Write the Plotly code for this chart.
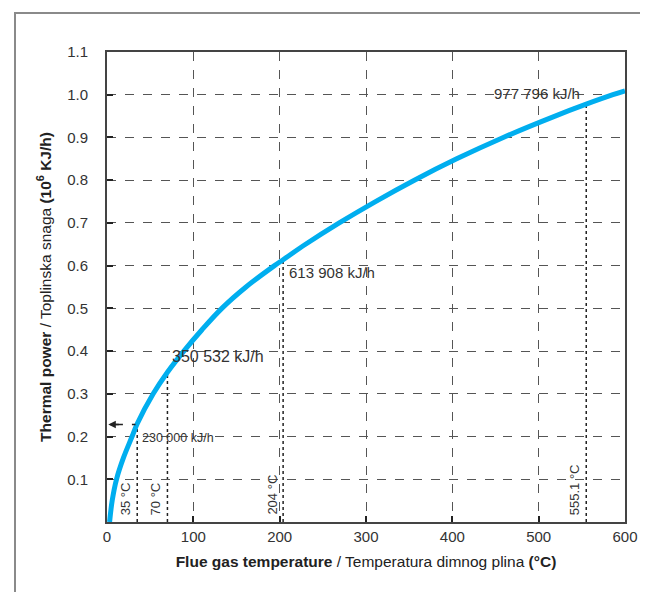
import plotly.graph_objects as go

# Curve data
temperature = [3, 6, 11, 19, 29, 35, 53.5, 70, 89, 110, 133, 161, 194, 204, 230, 269, 311, 356, 405, 459, 519, 555.1, 586, 600]
power = [0.0, 0.05, 0.10, 0.15, 0.20, 0.23, 0.30, 0.350532, 0.40, 0.45, 0.50, 0.55, 0.60, 0.613908, 0.65, 0.70, 0.75, 0.80, 0.85, 0.90, 0.95, 0.977796, 1.0, 1.009]

# Marked points
mark_t = [35, 70, 204, 555.1]
mark_q = [0.23, 0.350532, 0.613908, 0.977796]
mark_labels = ["35 °C", "70 °C", "204 °C", "555.1 °C"]
value_labels = ["230 000 kJ/h", "350 532 kJ/h", "613 908 kJ/h", "977 796 kJ/h"]

x_ticks = [0, 100, 200, 300, 400, 500, 600]
y_ticks = [0.1, 0.2, 0.3, 0.4, 0.5, 0.6, 0.7, 0.8, 0.9, 1.0, 1.1]

FONT = "Liberation Sans, Arial, sans-serif"
TXT = "#333333"

fig = go.Figure()
fig.add_trace(go.Scatter(x=temperature, y=power, mode="lines",
                         line=dict(color="#00AEEF", width=5, shape="spline", smoothing=1.0),
                         hoverinfo="skip", showlegend=False))

shapes = []
for t, q in zip(mark_t, mark_q):
    shapes.append(dict(type="line", xref="x", yref="y", x0=t, x1=t, y0=0, y1=q,
                       line=dict(color="#222222", width=1.5, dash="dot"), layer="below"))
# dashed arrow shaft
shapes.append(dict(type="line", xref="x", yref="y", x0=8, x1=33, y0=0.228, y1=0.228,
                   line=dict(color="#222222", width=1.5, dash="dash")))
# outer frame
shapes.append(dict(type="rect", xref="paper", yref="paper", x0=-0.1776, x1=1.08, y0=-0.2, y1=1.083,
                   line=dict(color="#8a8a8a", width=2), fillcolor="rgba(0,0,0,0)"))

annotations = []
# rotated temperature labels
for t, lab in zip(mark_t, mark_labels):
    annotations.append(dict(x=t, y=0, xref="x", yref="y", text=lab, textangle=-90,
                            showarrow=False, xanchor="right", yanchor="bottom",
                            xshift=-2, yshift=5, font=dict(size=13, color=TXT, family=FONT)))
# value labels
annotations.append(dict(x=38, y=0.197, xref="x", yref="y", text=value_labels[0], showarrow=False,
                        xanchor="left", yanchor="middle", font=dict(size=12.5, color=TXT, family=FONT)))
annotations.append(dict(x=73, y=0.388, xref="x", yref="y", text=value_labels[1], showarrow=False,
                        xanchor="left", yanchor="middle", font=dict(size=16, color=TXT, family=FONT)))
annotations.append(dict(x=208.5, y=0.583, xref="x", yref="y", text=value_labels[2], showarrow=False,
                        xanchor="left", yanchor="middle", font=dict(size=15, color=TXT, family=FONT)))
annotations.append(dict(x=498, y=1.003, xref="x", yref="y", text=value_labels[3], showarrow=False,
                        xanchor="center", yanchor="middle", font=dict(size=15, color=TXT, family=FONT)))
# arrow head
annotations.append(dict(x=1.5, y=0.228, xref="x", yref="y", text="", showarrow=True,
                        arrowhead=2, arrowsize=1, arrowwidth=1.5, arrowcolor="#222222", ax=12, ay=0))

fig.update_layout(
    width=648, height=592,
    margin=dict(l=99, r=31, t=44, b=78, autoexpand=False),
    paper_bgcolor="white", plot_bgcolor="white",
    font=dict(family=FONT, color=TXT, size=14),
    shapes=shapes, annotations=annotations,
    showlegend=False,
)
fig.update_xaxes(
    range=[0, 600], tickvals=x_ticks, ticktext=[str(v) for v in x_ticks],
    showgrid=True, gridcolor="#555555", griddash="dash", gridwidth=1,
    showline=True, linecolor="#444444", linewidth=2, mirror=True,
    ticks="inside", ticklen=6, tickcolor="#222222", tickwidth=1.5,
    tickfont=dict(size=15, color=TXT), zeroline=False, automargin=False,
    title=dict(text="<b>Flue gas temperature</b> / Temperatura dimnog plina <b>(°C)</b>",
               font=dict(size=15.5, color="#222222"), standoff=12),
)
fig.update_yaxes(
    range=[0, 1.1], tickvals=y_ticks, ticktext=[f"{v:.1f}" for v in y_ticks],
    showgrid=True, gridcolor="#555555", griddash="dash", gridwidth=1,
    showline=True, linecolor="#444444", linewidth=2, mirror=True,
    ticks="inside", ticklen=6, tickcolor="#222222", tickwidth=1.5,
    tickfont=dict(size=15, color=TXT), zeroline=False, ticklabelstandoff=14, automargin=False,
    title=dict(text="<b>Thermal power</b> / Toplinska snaga <b>(10<sup>6</sup> KJ/h)</b>",
               font=dict(size=15.5, color="#222222"), standoff=12),
)

fig.write_html("out.html")
